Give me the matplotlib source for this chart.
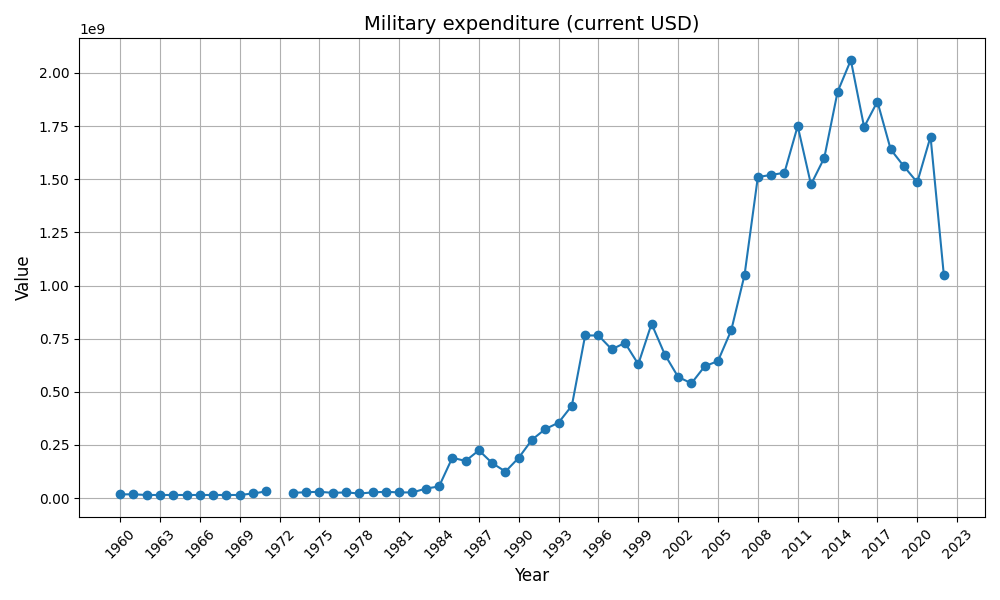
import numpy as np
import matplotlib.pyplot as plt

years = list(range(1960, 2023))
# values in billions of USD, 1972 missing
values_bn = [0.018, 0.018, 0.015, 0.015, 0.015, 0.015, 0.015, 0.015, 0.015, 0.015,
             0.022, 0.032, np.nan, 0.025, 0.028, 0.030, 0.025, 0.027, 0.022, 0.027,
             0.030, 0.027, 0.027, 0.045, 0.055, 0.190, 0.175, 0.225, 0.165, 0.125,
             0.190, 0.275, 0.325, 0.355, 0.435, 0.765, 0.765, 0.700, 0.730, 0.630,
             0.820, 0.675, 0.570, 0.540, 0.620, 0.645, 0.790, 1.050, 1.510, 1.520,
             1.530, 1.750, 1.475, 1.600, 1.910, 2.060, 1.745, 1.865, 1.640, 1.560,
             1.485, 1.700, 1.050]
values = np.array(values_bn) * 1e9

plt.figure(figsize=(10, 6))
plt.plot(years, values, marker='o')
plt.title('Military expenditure (current USD)', fontsize=14)
plt.xlabel('Year', fontsize=12)
plt.ylabel('Value', fontsize=12)
plt.xticks(range(1960, 2024, 3), rotation=45)
plt.grid(True)
plt.tight_layout()
plt.savefig('out.png', dpi=100)
